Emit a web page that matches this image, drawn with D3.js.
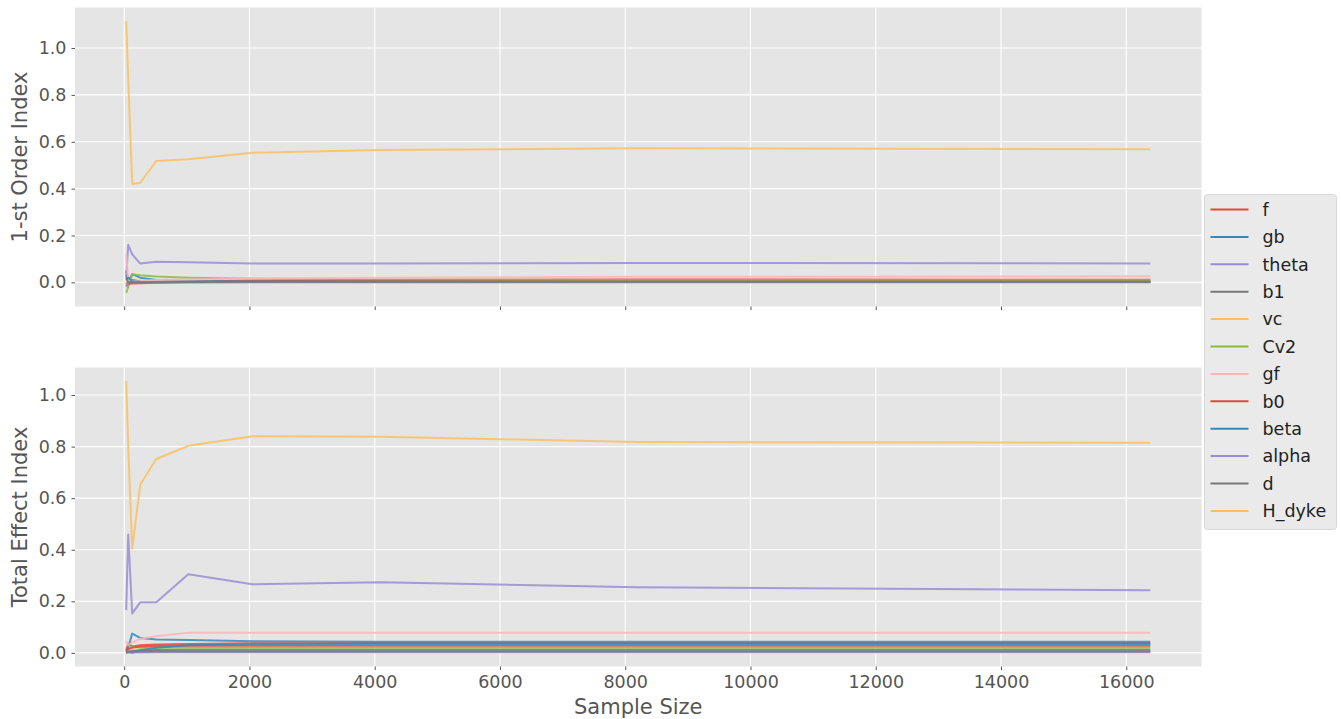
<!DOCTYPE html>
<html>
<head>
<meta charset="utf-8">
<script src="https://cdn.jsdelivr.net/npm/d3@7"></script>
<style>
  body { margin: 0; background: #fff; }
  svg text { font-family: "DejaVu Sans", sans-serif; }
</style>
</head>
<body>
<div id="chart"></div>
<script>
// sample sizes (x)
const sampleSizes = [32, 64, 128, 256, 512, 1024, 2048, 4096, 8192, 16384];

// parameter names, in legend order
const paramNames = ["f", "gb", "theta", "b1", "vc", "Cv2", "gf", "b0", "beta", "alpha", "d", "H_dyke"];

// 1-st order indices, one row per parameter
const firstOrder = [
  [0.00, -0.01, 0.000, 0.001, 0.003, 0.005, 0.008, 0.010, 0.012, 0.011],
  [0.05, 0.00, 0.035, 0.020, 0.010, 0.006, 0.004, 0.004, 0.004, 0.004],
  [0.02, 0.16, 0.120, 0.080, 0.088, 0.086, 0.080, 0.081, 0.083, 0.081],
  [0.03, 0.02, 0.010, 0.005, 0.003, 0.003, 0.003, 0.004, 0.004, 0.004],
  [0.00, 0.01, 0.005, 0.003, 0.002, 0.001, 0.001, 0.001, 0.001, 0.001],
  [-0.045, -0.02, 0.035, 0.030, 0.025, 0.020, 0.015, 0.012, 0.010, 0.010],
  [0.12, 0.01, 0.005, 0.008, 0.010, 0.012, 0.016, 0.020, 0.024, 0.026],
  [-0.015, -0.005, -0.005, -0.004, -0.002, 0.000, 0.002, 0.003, 0.003, 0.003],
  [0.01, 0.02, 0.005, 0.003, 0.002, 0.002, 0.002, 0.002, 0.002, 0.002],
  [-0.02, 0.00, 0.002, 0.001, 0.001, 0.001, 0.001, 0.001, 0.001, 0.001],
  [0.02, 0.00, 0.000, 0.000, 0.001, 0.002, 0.003, 0.003, 0.003, 0.003],
  [1.115, 0.87, 0.420, 0.425, 0.518, 0.525, 0.553, 0.565, 0.572, 0.568]
];

// total effect indices
const totalEffect = [
  [0.010, 0.035, 0.025, 0.030, 0.033, 0.035, 0.037, 0.038, 0.038, 0.038],
  [0.005, 0.020, 0.075, 0.058, 0.052, 0.050, 0.045, 0.043, 0.043, 0.043],
  [0.166, 0.459, 0.153, 0.196, 0.196, 0.305, 0.266, 0.274, 0.255, 0.243],
  [0.000, 0.005, 0.008, 0.010, 0.011, 0.012, 0.012, 0.012, 0.012, 0.012],
  [0.000, 0.002, 0.002, 0.002, 0.002, 0.002, 0.002, 0.002, 0.002, 0.002],
  [0.005, 0.012, 0.025, 0.020, 0.020, 0.020, 0.020, 0.020, 0.020, 0.020],
  [0.045, 0.030, 0.040, 0.055, 0.065, 0.078, 0.078, 0.078, 0.078, 0.078],
  [0.010, 0.015, 0.020, 0.025, 0.027, 0.028, 0.028, 0.028, 0.028, 0.028],
  [0.000, 0.005, 0.000, 0.010, 0.020, 0.030, 0.034, 0.035, 0.035, 0.035],
  [0.000, 0.002, 0.003, 0.003, 0.004, 0.004, 0.004, 0.004, 0.004, 0.004],
  [0.002, 0.004, 0.005, 0.005, 0.006, 0.006, 0.006, 0.006, 0.006, 0.006],
  [1.054, 0.800, 0.404, 0.652, 0.752, 0.803, 0.840, 0.838, 0.818, 0.815]
];

const xTicks = [0, 2000, 4000, 6000, 8000, 10000, 12000, 14000, 16000];
const yTicks = [0.0, 0.2, 0.4, 0.6, 0.8, 1.0];
const yLabels = ["1-st Order Index", "Total Effect Index"];
const xLabel = "Sample Size";

// ggplot style colour cycle
const palette = ["#E24A33", "#348ABD", "#988ED5", "#777777", "#FBC15E", "#8EBA42", "#FFB5B8"];

const W = 1341, H = 719;
const plotLeft = 75, plotRight = 1201.5;
const panels = [{top: 7.5, bottom: 306.5}, {top: 367.5, bottom: 666.5}];

const svg = d3.select("#chart").append("svg")
  .attr("width", W)
  .attr("height", H);

// matplotlib style 5% margins
const padded = ext => {
  let m = (ext[1] - ext[0]) * 0.05;
  return [ext[0] - m, ext[1] + m];
};

let x = d3.scaleLinear()
  .domain(padded(d3.extent(sampleSizes)))
  .range([plotLeft, plotRight]);

const tickColor = "#555555";

[firstOrder, totalEffect].forEach((data, pi) => {
  let p = panels[pi];
  let y = d3.scaleLinear()
    .domain(padded([d3.min(data.flat()), d3.max(data.flat())]))
    .range([p.bottom, p.top]);

  let g = svg.append("g");

  // background
  g.append("rect")
    .attr("x", plotLeft)
    .attr("y", p.top)
    .attr("width", plotRight - plotLeft)
    .attr("height", p.bottom - p.top)
    .attr("fill", "#E5E5E5");

  // grid
  g.selectAll(".gx")
    .data(xTicks)
    .enter().append("line")
      .attr("x1", d => x(d)).attr("x2", d => x(d))
      .attr("y1", p.top).attr("y2", p.bottom)
      .attr("stroke", "#fff").attr("stroke-width", 1.1);
  g.selectAll(".gy")
    .data(yTicks)
    .enter().append("line")
      .attr("x1", plotLeft).attr("x2", plotRight)
      .attr("y1", d => y(d)).attr("y2", d => y(d))
      .attr("stroke", "#fff").attr("stroke-width", 1.1);

  // axes
  let yAxis = g.append("g")
    .attr("transform", "translate(" + plotLeft + ",0)")
    .call(d3.axisLeft(y).tickValues(yTicks).tickFormat(d3.format(".1f")).tickSize(3.5).tickPadding(5));
  let xAxis = g.append("g")
    .attr("transform", "translate(0," + p.bottom + ")")
    .call(d3.axisBottom(x).tickValues(xTicks).tickFormat(d => d).tickSize(3.5).tickPadding(6));
  if (pi === 0) xAxis.selectAll("text").remove();

  [yAxis, xAxis].forEach(a => {
    a.select(".domain").remove();
    a.selectAll("line").attr("stroke", tickColor);
    a.selectAll("text")
      .attr("fill", tickColor)
      .style("font-size", "17.5px");
  });

  // series lines
  let line = d3.line()
    .x((d, i) => x(sampleSizes[i]))
    .y(d => y(d));

  g.append("g")
    .selectAll("path")
    .data(data)
    .enter().append("path")
      .attr("d", d => line(d))
      .attr("fill", "none")
      .attr("stroke", (d, i) => palette[i % palette.length])
      .attr("stroke-width", 2)
      .attr("stroke-opacity", 0.85)
      .attr("stroke-linejoin", "round");

  // y label
  svg.append("text")
    .attr("transform", "translate(27," + ((p.top + p.bottom) / 2) + ") rotate(-90)")
    .attr("text-anchor", "middle")
    .attr("fill", tickColor)
    .style("font-size", "21px")
    .text(yLabels[pi]);
});

// x label
svg.append("text")
  .attr("x", (plotLeft + plotRight) / 2)
  .attr("y", 714)
  .attr("text-anchor", "middle")
  .attr("fill", tickColor)
  .style("font-size", "21px")
  .text(xLabel);

// legend
let legend = svg.append("g").attr("transform", "translate(1204.5,194.5)");
legend.append("rect")
  .attr("width", 132)
  .attr("height", 335)
  .attr("rx", 3)
  .attr("fill", "#EAEAEA")
  .attr("stroke", "#D8D8D8")
  .attr("stroke-width", 1);

paramNames.forEach((name, i) => {
  let yy = 15 + i * 27.4;
  legend.append("line")
    .attr("x1", 6).attr("x2", 44)
    .attr("y1", yy).attr("y2", yy)
    .attr("stroke", palette[i % palette.length])
    .attr("stroke-width", 2);
  legend.append("text")
    .attr("x", 58)
    .attr("y", yy)
    .attr("dy", "0.36em")
    .attr("fill", "#222")
    .style("font-size", "17.5px")
    .text(name);
});
</script>
</body>
</html>
